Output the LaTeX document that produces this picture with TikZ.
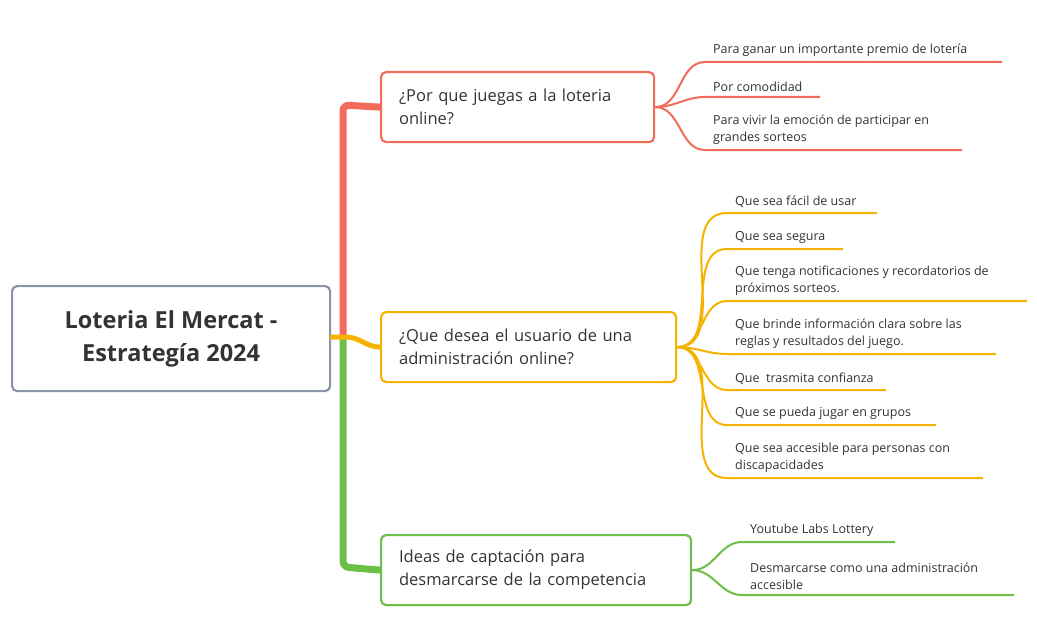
\documentclass[tikz,border=0pt]{standalone}
\usepackage{fontspec}
\setmainfont{Open Sans}
\definecolor{tc}{HTML}{333333}
\definecolor{cr}{HTML}{F26B5B}
\definecolor{co}{HTML}{F5B201}
\definecolor{cg}{HTML}{6CC04A}
\definecolor{cb}{HTML}{8A94A6}
\begin{document}
\begin{tikzpicture}[x=1pt,y=-1pt,
  topic/.style={draw=#1,line width=2.2pt,rounded corners=5pt,anchor=north west,text=tc,font=\fontsize{16.5}{23}\selectfont,align=left,inner xsep=18pt,inner ysep=0pt},
  leaf/.style={anchor=south west,text=tc,font=\fontsize{12.5}{17}\selectfont,align=left,inner sep=0pt},
  lk/.style={draw=#1,line width=2pt}]
\useasboundingbox (0,0) rectangle (1037,642);
% root
\node[draw=cb,line width=2.2pt,rounded corners=5pt,minimum width=318pt,minimum height=105pt,anchor=north west,text=tc,font=\bfseries\fontsize{23.5}{33}\selectfont,align=center] (root) at (11,285) {Loteria El Mercat -\\Estrategía 2024};
% topics
\node[topic=cr,minimum width=273pt,minimum height=70pt,text width=237pt] (t1) at (380,71) {¿Por que juegas a la loteria\\online?};
\node[topic=co,minimum width=295pt,minimum height=70pt,text width=259pt] (t2) at (380,311) {¿Que desea el usuario de una\\administración online?};
\node[topic=cg,minimum width=310pt,minimum height=70pt,text width=274pt] (t3) at (380,534) {Ideas de captación para\\desmarcarse de la competencia};
% trunks
\coordinate (rs) at (330,337);
\draw[cr,line width=7pt,rounded corners=6pt] (343,337) -- (343,105) -- (t1.west);
\draw[cg,line width=7pt,rounded corners=6pt] (343,337) -- (343,567) -- (t3.west);
\draw[co,line width=5pt] (rs) -- (346,337) to[out=0,in=180] (t2.west);
% leaves helper
\newcommand{\lf}[7]{% parent, name, x, y, xend, color, text
  \coordinate (#2s) at (#3,#4);
  \coordinate (#2e) at (#5,#4);
  \draw[lk=#6] (#1.east) to[out=0,in=180] (#2s) -- (#2e);
  \node[leaf] (#2) at ([xshift=8pt,yshift=5pt]#2s) {#7};}
\lf{t1}{a1}{705}{62}{1002}{cr}{Para ganar un importante premio de lotería}
\lf{t1}{a2}{705}{97}{820}{cr}{Por comodidad}
\lf{t1}{a3}{705}{150}{962}{cr}{Para vivir la emoción de participar en\\grandes sorteos}
\lf{t2}{b1}{727}{213}{877}{co}{Que sea fácil de usar}
\lf{t2}{b2}{727}{249}{843}{co}{Que sea segura}
\lf{t2}{b3}{727}{301}{1027}{co}{Que tenga notificaciones y recordatorios de\\próximos sorteos.}
\lf{t2}{b4}{727}{354}{996}{co}{Que brinde información clara sobre las\\reglas y resultados del juego.}
\lf{t2}{b5}{727}{390}{886}{co}{Que \ trasmita confianza}
\lf{t2}{b6}{727}{425}{936}{co}{Que se pueda jugar en grupos}
\lf{t2}{b7}{727}{478}{983}{co}{Que sea accesible para personas con\\discapacidades}
\lf{t3}{c1}{742}{542}{895}{cg}{Youtube Labs Lottery}
\lf{t3}{c2}{742}{595}{1014}{cg}{Desmarcarse como una administración\\accesible}
\end{tikzpicture}
\end{document}
